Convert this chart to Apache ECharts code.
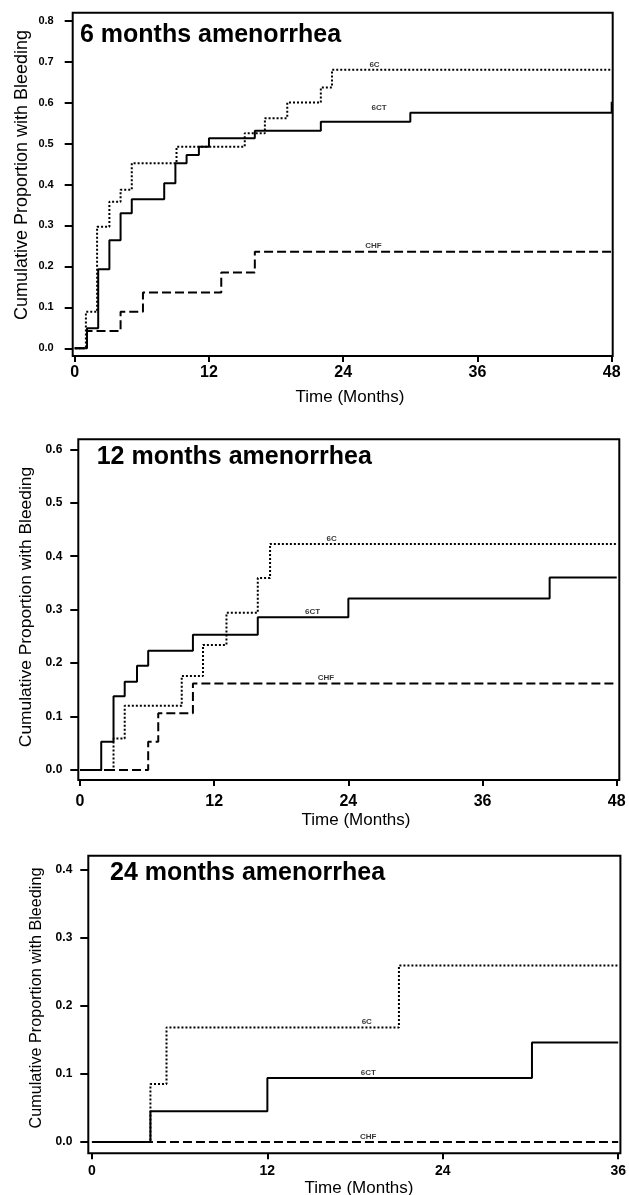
<!DOCTYPE html>
<html>
<head>
<meta charset="utf-8">
<script src="https://cdn.jsdelivr.net/npm/echarts@6/dist/echarts.min.js"></script>
<style>
html,body{margin:0;padding:0;background:#fff;}
#chart{width:629px;height:1195px;}
</style>
</head>
<body>
<div id="chart"></div>
<script>
// ---------- DATA ----------
const panelTitles = ['6 months amenorrhea', '12 months amenorrhea', '24 months amenorrhea'];
const yTitle = 'Cumulative Proportion with Bleeding';
const xTitle = 'Time (Months)';
const seriesNames = ['6C', '6CT', 'CHF'];

// Panel 1: 6 months amenorrhea
const p1_6C_t  = [0, 1.0, 2.0, 3.1, 4.1, 5.1, 9.1, 15.2, 17.0, 19.0, 22.0, 23.0, 48];
const p1_6C_v  = [0, 0.089, 0.297, 0.358, 0.387, 0.452, 0.492, 0.525, 0.562, 0.600, 0.637, 0.680, 0.680];
const p1_6CT_t = [0, 1.1, 2.1, 3.1, 4.1, 5.1, 8.0, 9.0, 10.0, 11.1, 12.0, 16.1, 22.0, 30.0, 48];
const p1_6CT_v = [0, 0.049, 0.193, 0.264, 0.330, 0.364, 0.403, 0.452, 0.472, 0.492, 0.513, 0.531, 0.553, 0.575, 0.602];
const p1_CHF_t = [0, 1.1, 4.1, 6.1, 13.1, 16.1, 48];
const p1_CHF_v = [0, 0.042, 0.089, 0.136, 0.185, 0.236, 0.236];
const p1_xTicks = [0, 12, 24, 36, 48];
const p1_yTicks = [0, 0.1, 0.2, 0.3, 0.4, 0.5, 0.6, 0.7, 0.8];
const p1_labelX = [26.8, 27.2, 26.7];
const p1_labelY = [0.680, 0.575, 0.236];

// Panel 2: 12 months amenorrhea
const p2_6C_t  = [0, 3.0, 4.0, 9.1, 11.0, 13.1, 15.9, 17.0, 48];
const p2_6C_v  = [0, 0.059, 0.120, 0.176, 0.234, 0.294, 0.359, 0.423, 0.423];
const p2_6CT_t = [0, 1.9, 3.0, 4.0, 5.1, 6.1, 10.1, 15.9, 24.0, 42.0, 48];
const p2_6CT_v = [0, 0.053, 0.138, 0.165, 0.195, 0.223, 0.253, 0.286, 0.321, 0.360, 0.360];
const p2_CHF_t = [0, 6.1, 7.0, 10.1, 48];
const p2_CHF_v = [0, 0.053, 0.106, 0.162, 0.162];
const p2_xTicks = [0, 12, 24, 36, 48];
const p2_yTicks = [0, 0.1, 0.2, 0.3, 0.4, 0.5, 0.6];
const p2_labelX = [22.5, 20.8, 22.0];
const p2_labelY = [0.423, 0.286, 0.162];

// Panel 3: 24 months amenorrhea
const p3_6C_t  = [0, 4.0, 5.1, 21.0, 36];
const p3_6C_v  = [0, 0.085, 0.168, 0.259, 0.259];
const p3_6CT_t = [0, 4.0, 12.0, 30.1, 36];
const p3_6CT_v = [0, 0.045, 0.094, 0.146, 0.146];
const p3_CHF_t = [0, 36];
const p3_CHF_v = [0, 0];
const p3_xTicks = [0, 12, 24, 36];
const p3_yTicks = [0, 0.1, 0.2, 0.3, 0.4];
const p3_labelX = [18.8, 18.9, 18.9];
const p3_labelY = [0.168, 0.094, 0];

// ---------- LAYOUT ----------
const FONT = "'Liberation Sans', Arial, sans-serif";
const panels = [
  { grid:{left:72.7, top:12.7, width:540, height:343.3}, xMin:-0.18, xMax:48.09, yMin:-0.0188, yMax:0.8195,
    xTicks:p1_xTicks, yTicks:p1_yTicks, yLabelSize:11, yLabelMargin:19, xLabelSize:16, xLabelMargin:9,
    lines:[[p1_6C_t,p1_6C_v],[p1_6CT_t,p1_6CT_v],[p1_CHF_t,p1_CHF_v]], lx:p1_labelX, ly:p1_labelY,
    title:{x:80, y:37.5}, xt:{x:350, y:397, size:17}, yt:{x:21.7, y:175, size:18} },
  { grid:{left:78.3, top:439.3, width:541, height:340.7}, xMin:-0.15, xMax:48.23, yMin:-0.0187, yMax:0.6187,
    xTicks:p2_xTicks, yTicks:p2_yTicks, yLabelSize:12, yLabelMargin:16, xLabelSize:16, xLabelMargin:14,
    lines:[[p2_6C_t,p2_6C_v],[p2_6CT_t,p2_6CT_v],[p2_CHF_t,p2_CHF_v]], lx:p2_labelX, ly:p2_labelY,
    title:{x:96.7, y:460}, xt:{x:356, y:820, size:17}, yt:{x:26.7, y:607, size:17.4} },
  { grid:{left:88.3, top:855.7, width:532.4, height:297.6}, xMin:-0.25, xMax:36.15, yMin:-0.0166, yMax:0.42,
    xTicks:p3_xTicks, yTicks:p3_yTicks, yLabelSize:12, yLabelMargin:16, xLabelSize:14, xLabelMargin:11,
    lines:[[p3_6C_t,p3_6C_v],[p3_6CT_t,p3_6CT_v],[p3_CHF_t,p3_CHF_v]], lx:p3_labelX, ly:p3_labelY,
    title:{x:110, y:875.4}, xt:{x:359, y:1188, size:17}, yt:{x:36.7, y:998, size:16.2} }
];
const lineTypes = [[2, 2], 'solid', [9, 4]];

const grids = [], xAxes = [], yAxes = [], series = [], graphics = [];
panels.forEach((p, i) => {
  grids.push(Object.assign({show:true, borderColor:'#000', borderWidth:2, backgroundColor:'#fff', containLabel:false}, p.grid));
  xAxes.push({
    gridIndex:i, type:'value', min:p.xMin, max:p.xMax, position:'bottom',
    axisLine:{show:false, onZero:false}, splitLine:{show:false},
    axisTick:{show:true, inside:false, customValues:p.xTicks, length:6, lineStyle:{color:'#000', width:2}},
    axisLabel:{show:true, customValues:p.xTicks, margin:p.xLabelMargin, color:'#000', fontFamily:FONT, fontWeight:'bold', fontSize:p.xLabelSize}
  });
  yAxes.push({
    gridIndex:i, type:'value', min:p.yMin, max:p.yMax, position:'left',
    axisLine:{show:false, onZero:false}, splitLine:{show:false},
    axisTick:{show:true, inside:false, customValues:p.yTicks, length:8, lineStyle:{color:'#000', width:2}},
    axisLabel:{show:true, customValues:p.yTicks, margin:p.yLabelMargin, color:'#000', fontFamily:FONT, fontWeight:'bold', fontSize:p.yLabelSize,
      formatter: v => v.toFixed(1)}
  });
  p.lines.forEach((ln, k) => {
    series.push({
      name: seriesNames[k] + ' ' + (i + 1), type:'line', step:'end', xAxisIndex:i, yAxisIndex:i,
      data: ln[0].map((t, j) => [t, ln[1][j]]),
      symbol:'none', silent:true, animation:false, z: 3 - k,
      lineStyle:{color:'#000', width:2, type:lineTypes[k]}
    });
  });
  series.push({
    name:'labels ' + (i + 1), type:'scatter', xAxisIndex:i, yAxisIndex:i, symbolSize:1,
    itemStyle:{color:'rgba(0,0,0,0)'}, animation:false, silent:true, z:5,
    data: seriesNames.map((n, k) => ({value:[p.lx[k], p.ly[k]], name:n})),
    label:{show:true, position:'top', distance:1, formatter:'{b}', color:'#000', fontFamily:FONT, fontWeight:'bold', fontSize:8}
  });
  graphics.push({type:'text', left:p.title.x, top:p.title.y - 15, z:10,
    style:{text:panelTitles[i], font:'bold 25px ' + FONT, fill:'#000'}});
  graphics.push({type:'text', x:p.xt.x, y:p.xt.y, z:10,
    style:{text:xTitle, font:p.xt.size + 'px ' + FONT, fill:'#000', align:'center', verticalAlign:'middle'}});
  graphics.push({type:'text', x:p.yt.x, y:p.yt.y, rotation:Math.PI / 2, z:10,
    style:{text:yTitle, font:p.yt.size + 'px ' + FONT, fill:'#000', align:'center', verticalAlign:'middle'}});
});

const chart = echarts.init(document.getElementById('chart'), null, {renderer:'canvas'});
chart.setOption({
  backgroundColor:'#fff', animation:false,
  grid:grids, xAxis:xAxes, yAxis:yAxes, series:series, graphic:graphics
});
</script>
</body>
</html>
